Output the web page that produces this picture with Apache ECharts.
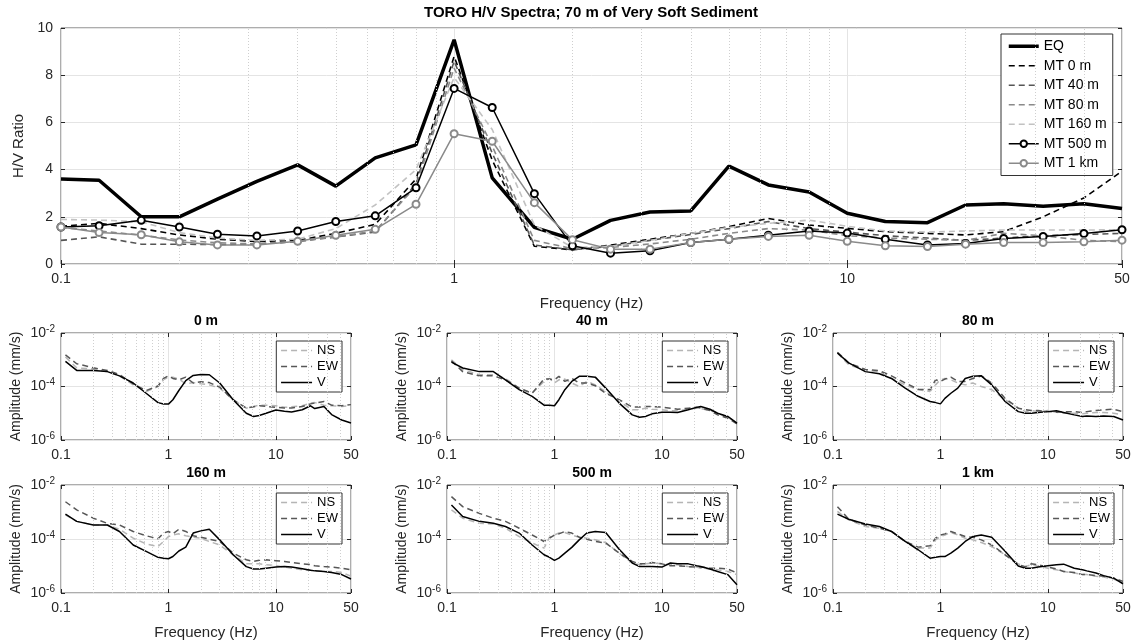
<!DOCTYPE html>
<html><head><meta charset="utf-8">
<script src="https://cdn.jsdelivr.net/npm/echarts@6/dist/echarts.min.js"></script>
<style>html,body{margin:0;padding:0;background:#fff}#c{width:1139px;height:642px}</style>
</head><body><div id="c"></div>
<script>
// ---------- Top panel: H/V ratio (1/3-octave frequencies) ----------
const FREQ = [0.1,0.125,0.16,0.2,0.25,0.315,0.4,0.5,0.63,0.8,1,1.25,1.6,2,2.5,3.15,4,5,6.3,8,10,12.5,16,20,25,31.5,40,50];
const EQ      = [3.6,3.55,2.0,2.0,2.75,3.5,4.2,3.3,4.5,5.05,9.5,3.65,1.55,1.05,1.85,2.2,2.25,4.15,3.35,3.05,2.15,1.8,1.75,2.5,2.55,2.45,2.55,2.35];
const MT_0M   = [1.6,1.72,1.5,1.23,1.05,0.95,1.0,1.3,1.68,3.6,8.8,4.4,0.75,0.6,0.8,1.05,1.3,1.58,1.93,1.65,1.51,1.37,1.3,1.23,1.37,2.0,2.8,3.93];
const MT_40M  = [1.0,1.15,0.84,0.84,0.82,0.85,0.95,1.15,1.35,3.4,8.6,4.7,0.8,0.6,0.75,1.0,1.25,1.5,1.8,1.5,1.35,1.2,1.1,1.0,1.1,1.2,1.25,1.3];
const MT_80M  = [1.55,1.4,1.22,1.02,0.9,0.85,0.95,1.15,1.4,3.3,8.3,5.0,1.0,0.65,0.7,0.85,1.05,1.3,1.5,1.44,1.2,1.1,1.05,1.0,1.3,1.2,1.0,0.95];
const MT_160M = [1.89,1.86,1.79,1.33,1.1,1.0,1.05,1.5,2.5,4.0,7.9,5.7,1.65,0.7,0.75,1.0,1.3,1.55,1.72,1.86,1.6,1.4,1.35,1.4,1.44,1.44,1.44,1.45];
const MT_500M = [1.57,1.62,1.85,1.57,1.26,1.19,1.40,1.80,2.04,3.23,7.44,6.63,2.98,0.77,0.46,0.56,0.91,1.05,1.22,1.40,1.31,1.05,0.81,0.87,1.08,1.17,1.29,1.45];
const MT_1KM  = [1.57,1.33,1.24,0.94,0.81,0.81,0.96,1.22,1.47,2.53,5.52,5.2,2.6,1.03,0.63,0.63,0.91,1.05,1.17,1.22,0.96,0.77,0.74,0.84,0.91,0.91,0.94,1.01];

// ---------- Small panels: amplitude spectra (mm/s) ----------
const SF = [0.11,0.14,0.2,0.27,0.35,0.47,0.62,0.8,0.9,1.0,1.1,1.25,1.45,1.7,2.0,2.4,3.0,4.0,5.3,6.2,7,8.1,10,12,14,17.6,21,23,28,33,41,50];

const V_0M  = [8.7e-4,4.0e-4,4.0e-4,3.6e-4,2.5e-4,1.35e-4,5.6e-5,2.5e-5,2.2e-5,2.2e-5,3.2e-5,7.1e-5,1.66e-4,2.6e-4,2.8e-4,2.75e-4,1.35e-4,3.2e-5,1.0e-5,7.6e-6,8.3e-6,1.0e-5,1.32e-5,1.2e-5,1.12e-5,1.35e-5,1.9e-5,1.5e-5,1.8e-5,8.9e-6,5.6e-6,4.3e-6];
const NS_0M = [1.26e-3,5.0e-4,4.5e-4,3.55e-4,2.5e-4,1.15e-4,6.5e-5,1.0e-4,1.8e-4,2.2e-4,2.2e-4,1.9e-4,1.26e-4,1.4e-4,1.26e-4,1.15e-4,8.7e-5,3.2e-5,1.55e-5,1.8e-5,2.0e-5,2.0e-5,1.9e-5,1.66e-5,1.74e-5,1.9e-5,2.4e-5,2.5e-5,2.0e-5,1.9e-5,1.8e-5,1.9e-5];
const EW_0M = [1.51e-3,7.1e-4,5.0e-4,4.0e-4,2.8e-4,1.26e-4,7.1e-5,1.05e-4,2.0e-4,2.5e-4,2.0e-4,1.78e-4,2.24e-4,1.35e-4,1.5e-4,1.4e-4,9.5e-5,3.2e-5,1.55e-5,1.74e-5,1.9e-5,1.8e-5,1.66e-5,1.58e-5,1.58e-5,1.78e-5,2.24e-5,2.4e-5,2.75e-5,2.0e-5,1.9e-5,2.1e-5];

const V_40M  = [8.1e-4,4.9e-4,3.6e-4,3.6e-4,1.78e-4,7.6e-5,4.3e-5,2.0e-5,2.0e-5,1.9e-5,3.2e-5,7.6e-5,1.55e-4,2.4e-4,2.4e-4,2.24e-4,8.7e-5,2.4e-5,8.7e-6,7.1e-6,7.6e-6,9.5e-6,1.1e-5,1.1e-5,1.07e-5,1.35e-5,1.66e-5,1.78e-5,1.41e-5,1.0e-5,7.6e-6,4.3e-6];
const NS_40M = [1.0e-3,4.3e-4,2.75e-4,2.75e-4,2.0e-4,8.7e-5,5.6e-5,1.55e-4,2.0e-4,1.35e-4,1.78e-4,1.9e-4,1.35e-4,1.0e-4,1.55e-4,1.15e-4,6.5e-5,2.75e-5,1.35e-5,1.35e-5,1.55e-5,1.41e-5,1.35e-5,1.23e-5,1.23e-5,1.41e-5,1.55e-5,1.5e-5,1.26e-5,1.0e-5,7.1e-6,4.3e-6];
const EW_40M = [9.1e-4,3.6e-4,2.5e-4,2.5e-4,1.78e-4,8.7e-5,5.6e-5,1.9e-4,1.9e-4,1.78e-4,2.4e-4,1.55e-4,2.0e-4,1.35e-4,1.35e-4,1.07e-4,5.6e-5,3.2e-5,1.7e-5,1.7e-5,1.78e-5,1.78e-5,1.7e-5,1.55e-5,1.41e-5,1.55e-5,1.66e-5,1.55e-5,1.26e-5,8.7e-6,6.5e-6,4.0e-6];

const V_80M  = [1.78e-3,7.6e-4,3.6e-4,3.0e-4,2.0e-4,8.7e-5,4.3e-5,2.75e-5,2.5e-5,2.24e-5,3.6e-5,5.6e-5,8.7e-5,2.0e-4,2.4e-4,2.5e-4,1.15e-4,2.75e-5,1.15e-5,1.0e-5,1.0e-5,1.07e-5,1.15e-5,1.23e-5,1.07e-5,8.7e-6,7.6e-6,7.9e-6,7.6e-6,7.9e-6,7.6e-6,5.6e-6];
const NS_80M = [1.78e-3,6.5e-4,4.0e-4,3.6e-4,2.0e-4,1.15e-4,7.6e-5,6.5e-5,1.15e-4,1.78e-4,2.0e-4,1.78e-4,1.35e-4,1.15e-4,1.35e-4,1.0e-4,7.6e-5,3.2e-5,1.55e-5,1.15e-5,1.26e-5,1.15e-5,1.26e-5,1.1e-5,1.0e-5,1.0e-5,9.5e-6,1.0e-5,1.07e-5,1.07e-5,1.0e-5,8.7e-6];
const EW_80M = [1.9e-3,7.6e-4,4.3e-4,3.9e-4,2.5e-4,1.35e-4,7.9e-5,7.6e-5,1.78e-4,1.55e-4,1.9e-4,2.24e-4,1.55e-4,1.55e-4,2.0e-4,2.5e-4,1.35e-4,3.6e-5,1.55e-5,1.35e-5,1.26e-5,1.26e-5,1.15e-5,1.1e-5,1.15e-5,1.15e-5,1.07e-5,1.15e-5,1.26e-5,1.35e-5,1.41e-5,1.15e-5];

const V_160M  = [8.3e-4,4.5e-4,3.3e-4,3.3e-4,1.9e-4,6.0e-5,3.5e-5,2.1e-5,1.95e-5,1.86e-5,2.24e-5,3.6e-5,5.0e-5,1.66e-4,2.0e-4,2.3e-4,9.3e-5,2.6e-5,9.5e-6,7.8e-6,7.8e-6,8.3e-6,9.1e-6,9.5e-6,9.1e-6,7.9e-6,6.9e-6,6.6e-6,6.3e-6,5.75e-6,4.8e-6,3.3e-6];
const NS_160M = [7.9e-4,4.5e-4,3.3e-4,3.3e-4,2.3e-4,1.07e-4,6.6e-5,5.25e-5,8.1e-5,1.23e-4,1.41e-4,1.55e-4,1.32e-4,1.17e-4,1.07e-4,8.1e-5,6.0e-5,2.6e-5,1.2e-5,1.2e-5,1.2e-5,1.12e-5,1.02e-5,9.1e-6,8.3e-6,7.2e-6,6.9e-6,6.6e-6,6.3e-6,6.3e-6,5.75e-6,4.2e-6];
const EW_160M = [2.4e-3,1.2e-3,5.9e-4,3.8e-4,3.3e-4,1.9e-4,1.32e-4,1.02e-4,1.66e-4,1.9e-4,1.55e-4,2.3e-4,1.9e-4,1.32e-4,1.17e-4,9.8e-5,8.1e-5,3.0e-5,1.7e-5,1.48e-5,1.62e-5,1.7e-5,1.58e-5,1.48e-5,1.35e-5,1.2e-5,1.12e-5,1.02e-5,9.5e-6,9.1e-6,8.3e-6,7.2e-6];

const V_500M  = [1.82e-3,6.8e-4,4.5e-4,3.8e-4,2.9e-4,1.66e-4,6.0e-5,2.6e-5,2.1e-5,1.62e-5,1.95e-5,3.0e-5,4.9e-5,9.3e-5,1.66e-4,1.9e-4,1.74e-4,4.2e-5,1.29e-5,9.5e-6,9.5e-6,9.5e-6,9.1e-6,1.29e-5,1.2e-5,1.2e-5,1.02e-5,9.5e-6,7.8e-6,6.3e-6,4.8e-6,2.0e-6];
const NS_500M = [1.2e-3,5.9e-4,3.8e-4,3.6e-4,2.5e-4,1.23e-4,7.1e-5,4.6e-5,1.17e-4,1.41e-4,1.66e-4,1.74e-4,1.41e-4,1.17e-4,1.07e-4,9.3e-5,7.4e-5,3.0e-5,1.29e-5,1.12e-5,1.2e-5,1.29e-5,1.2e-5,1.12e-5,1.12e-5,9.5e-6,9.1e-6,8.3e-6,7.8e-6,7.2e-6,6.3e-6,4.8e-6];
const EW_500M = [3.7e-3,1.58e-3,8.9e-4,5.9e-4,4.5e-4,2.5e-4,1.41e-4,8.1e-5,1.07e-4,1.41e-4,1.55e-4,1.9e-4,1.66e-4,1.17e-4,9.8e-5,8.1e-5,7.1e-5,3.0e-5,1.48e-5,1.2e-5,1.2e-5,1.35e-5,1.2e-5,1.02e-5,1.02e-5,9.5e-6,9.1e-6,9.1e-6,8.3e-6,8.3e-6,7.8e-6,5.5e-6];

const V_1KM  = [8.3e-4,5.4e-4,3.6e-4,2.9e-4,1.9e-4,8.1e-5,4.0e-5,1.95e-5,2.1e-5,2.24e-5,2.24e-5,3.0e-5,4.6e-5,8.1e-5,1.23e-4,1.41e-4,1.17e-4,3.5e-5,1.0e-5,8.3e-6,8.3e-6,9.1e-6,1.02e-5,1.12e-5,1.17e-5,8.3e-6,7.2e-6,6.6e-6,5.5e-6,4.4e-6,3.55e-6,2.2e-6];
const NS_1KM = [1.05e-3,5.1e-4,2.9e-4,2.5e-4,1.9e-4,8.1e-5,4.6e-5,4.6e-5,9.3e-5,1.23e-4,1.41e-4,1.74e-4,1.41e-4,1.07e-4,9.3e-5,7.4e-5,5.25e-5,2.6e-5,1.2e-5,9.5e-6,1.12e-5,1.02e-5,8.3e-6,7.2e-6,6.3e-6,5.5e-6,4.8e-6,4.8e-6,4.2e-6,3.9e-6,3.3e-6,2.35e-6];
const EW_1KM = [1.58e-3,5.4e-4,3.3e-4,2.5e-4,1.9e-4,8.1e-5,5.0e-5,5.6e-5,1.07e-4,1.41e-4,1.55e-4,1.9e-4,1.55e-4,1.23e-4,1.17e-4,9.3e-5,6.0e-5,2.6e-5,1.12e-5,9.5e-6,1.2e-5,1.12e-5,9.1e-6,7.8e-6,6.3e-6,5.75e-6,4.8e-6,4.8e-6,4.4e-6,4.2e-6,3.55e-6,2.7e-6];

const PANEL_TITLES = ['0 m','40 m','80 m','160 m','500 m','1 km'];
const MINOR_X = [0.2,0.3,0.4,0.5,0.6,0.7,0.8,0.9,2,3,4,5,6,7,8,9,20,30,40];
const MAIN_TITLE = 'TORO H/V Spectra; 70 m of Very Soft Sediment';

// ---------- build option ----------
const FONT = '"Liberation Sans", Arial, Helvetica, sans-serif';
const AX = '#262626';
const GRIDC = '#e4e4e4';
const BOX = '#5a5a5a';
const pairs = (xs, ys) => xs.map((x, i) => [x, ys[i]]);
const minorMark = {
  silent: true, symbol: ['none','none'], label: {show: false}, animation: false,
  lineStyle: {type: [1, 2], color: '#cfcfcf', width: 1},
  emphasis: {disabled: true},
  data: MINOR_X.map(v => ({xAxis: v}))
};

const grids = [{left: 61, top: 28, width: 1061, height: 236, show: true, borderColor: BOX, borderWidth: 1}];
const colL = [61, 447, 833], rowT = [333, 485], rowH = [107, 108], PW = 290;
const panelGeo = [];
for (let r = 0; r < 2; r++) for (let c = 0; c < 3; c++) {
  grids.push({left: colL[c], top: rowT[r], width: PW, height: rowH[r], show: true, borderColor: BOX, borderWidth: 1});
  panelGeo.push({l: colL[c], t: rowT[r], h: rowH[r], r});
}

const tick = {show: true, inside: true, length: 4, lineStyle: {color: AX}};
function logX(gi, name) {
  return {
    type: 'log', logBase: 10, gridIndex: gi, min: 0.1, max: 50,
    axisLine: {show: false}, axisTick: tick,
    axisLabel: {fontFamily: FONT, fontSize: 14, color: AX, margin: 8,
      formatter: v => String(+(+v).toPrecision(3))},
    splitLine: {show: true, lineStyle: {color: GRIDC, width: 1}},
    name: name || '', nameLocation: 'middle', nameGap: 32,
    nameTextStyle: {fontFamily: FONT, fontSize: 15, color: AX}
  };
}
function mirrorX(gi) {
  return {type: 'log', logBase: 10, gridIndex: gi, min: 0.1, max: 50, position: 'top',
    axisLine: {show: false}, axisTick: tick, axisLabel: {show: false}, splitLine: {show: false}};
}

const xAxes = [logX(0, 'Frequency (Hz)')];
const yAxes = [{
  type: 'value', gridIndex: 0, min: 0, max: 10, interval: 2,
  axisLine: {show: false}, axisTick: tick,
  axisLabel: {fontFamily: FONT, fontSize: 14, color: AX, margin: 8},
  splitLine: {show: true, lineStyle: {color: GRIDC, width: 1}},
  name: 'H/V Ratio', nameLocation: 'middle', nameGap: 33, nameRotate: 90,
  nameTextStyle: {fontFamily: FONT, fontSize: 15, color: AX}
}];
for (let i = 0; i < 6; i++) {
  xAxes.push(logX(i + 1, panelGeo[i].r === 1 ? 'Frequency (Hz)' : ''));
  yAxes.push({
    type: 'log', logBase: 10, gridIndex: i + 1, min: 1e-6, max: 1e-2, interval: 2,
    axisLine: {show: false}, axisTick: tick,
    axisLabel: {fontFamily: FONT, fontSize: 14, color: AX, margin: 6, lineHeight: 18,
      formatter: v => '10{s|' + Math.round(Math.log10(v)) + '}',
      rich: {s: {fontFamily: FONT, fontSize: 10, color: AX, verticalAlign: 'top', lineHeight: 10}}},
    splitLine: {show: true, lineStyle: {color: GRIDC, width: 1}},
    name: 'Amplitude (mm/s)', nameLocation: 'middle', nameGap: 38, nameRotate: 90,
    nameTextStyle: {fontFamily: FONT, fontSize: 14, color: AX}
  });
}
// mirrored tick marks on top / right of every box (appended after the data axes)
xAxes.push(mirrorX(0));
yAxes.push({type: 'value', gridIndex: 0, min: 0, max: 10, interval: 2, position: 'right',
  axisLine: {show: false}, axisTick: tick, axisLabel: {show: false}, splitLine: {show: false}});
for (let i = 0; i < 6; i++) {
  xAxes.push(mirrorX(i + 1));
  yAxes.push({type: 'log', logBase: 10, gridIndex: i + 1, min: 1e-6, max: 1e-2, interval: 2, position: 'right',
    axisLine: {show: false}, axisTick: tick, axisLabel: {show: false}, splitLine: {show: false}});
}

const dashed = [6, 4];
const series = [
  {name: 'EQ', data: pairs(FREQ, EQ), color: '#000', width: 3.5},
  {name: 'MT 0 m', data: pairs(FREQ, MT_0M), color: '#000', width: 1.6, type: dashed},
  {name: 'MT 40 m', data: pairs(FREQ, MT_40M), color: '#555', width: 1.6, type: dashed},
  {name: 'MT 80 m', data: pairs(FREQ, MT_80M), color: '#8a8a8a', width: 1.6, type: dashed},
  {name: 'MT 160 m', data: pairs(FREQ, MT_160M), color: '#c2c2c2', width: 1.6, type: dashed},
  {name: 'MT 500 m', data: pairs(FREQ, MT_500M), color: '#000', width: 1.5, marker: true},
  {name: 'MT 1 km', data: pairs(FREQ, MT_1KM), color: '#8a8a8a', width: 1.5, marker: true}
].map((s, i) => ({
  type: 'line', name: s.name, xAxisIndex: 0, yAxisIndex: 0, data: s.data,
  symbol: s.marker ? 'emptyCircle' : 'none', symbolSize: 7, showSymbol: !!s.marker,
  itemStyle: {color: s.color, borderColor: s.color, borderWidth: 1.5},
  lineStyle: {color: s.color, width: s.width, type: s.type || 'solid'},
  animation: false, silent: true, z: 2 + i,
  markLine: i === 0 ? minorMark : undefined
}));

const PANEL_DATA = [
  [NS_0M, EW_0M, V_0M], [NS_40M, EW_40M, V_40M], [NS_80M, EW_80M, V_80M],
  [NS_160M, EW_160M, V_160M], [NS_500M, EW_500M, V_500M], [NS_1KM, EW_1KM, V_1KM]
];
const compStyle = [
  {name: 'NS', color: '#b5b5b5', type: dashed},
  {name: 'EW', color: '#575757', type: dashed},
  {name: 'V', color: '#000', type: 'solid'}
];
PANEL_DATA.forEach((arrs, p) => {
  arrs.forEach((arr, k) => {
    const cs = compStyle[k];
    series.push({
      type: 'line', name: cs.name, xAxisIndex: p + 1, yAxisIndex: p + 1,
      data: pairs(SF, arr), symbol: 'none', showSymbol: false,
      itemStyle: {color: cs.color},
      lineStyle: {color: cs.color, width: 1.5, type: cs.type},
      animation: false, silent: true, z: 2 + k,
      markLine: k === 0 ? minorMark : undefined
    });
  });
});

const noSym = (name, w) => ({name, itemStyle: {opacity: 0}, lineStyle: {width: w || 1.5}});
const legends = [{
  data: [noSym('EQ', 3.5), noSym('MT 0 m'), noSym('MT 40 m'), noSym('MT 80 m'), noSym('MT 160 m'),
         {name: 'MT 500 m', lineStyle: {width: 1.5}}, {name: 'MT 1 km', lineStyle: {width: 1.5}}],
  orient: 'vertical', left: 1001, top: 34, itemWidth: 30, itemHeight: 8, itemGap: 3,
  padding: [4, 6, 4, 6], borderColor: '#333', borderWidth: 1, backgroundColor: '#fff',
  selectedMode: false, textStyle: {fontFamily: FONT, fontSize: 14, color: '#000', lineHeight: 16.5}
}];
panelGeo.forEach(g => {
  legends.push({
    data: [noSym('NS'), noSym('EW'), noSym('V')], orient: 'vertical',
    right: 1139 - (g.l + PW - 9), top: g.t + 8,
    itemWidth: 31, itemHeight: 10, itemGap: 3, padding: [3, 4, 3, 4],
    borderColor: '#333', borderWidth: 1, backgroundColor: '#fff', selectedMode: false,
    textStyle: {fontFamily: FONT, fontSize: 13, color: '#000', lineHeight: 13}
  });
});

const graphics = [{
  type: 'text', x: 591, y: 13, silent: true,
  style: {text: MAIN_TITLE, font: 'bold 15px ' + FONT, fill: '#000', textAlign: 'center', textVerticalAlign: 'middle'}
}];
panelGeo.forEach((g, i) => {
  graphics.push({
    type: 'text', x: g.l + PW / 2, y: g.t - 12, silent: true,
    style: {text: PANEL_TITLES[i], font: 'bold 14px ' + FONT, fill: '#000', textAlign: 'center', textVerticalAlign: 'middle'}
  });
});

const chart = echarts.init(document.getElementById('c'), null, {renderer: 'canvas'});
chart.setOption({
  backgroundColor: '#fff',
  animation: false,
  textStyle: {fontFamily: FONT},
  grid: grids, xAxis: xAxes, yAxis: yAxes,
  legend: legends, series: series, graphic: graphics
});
</script>
</body></html>
